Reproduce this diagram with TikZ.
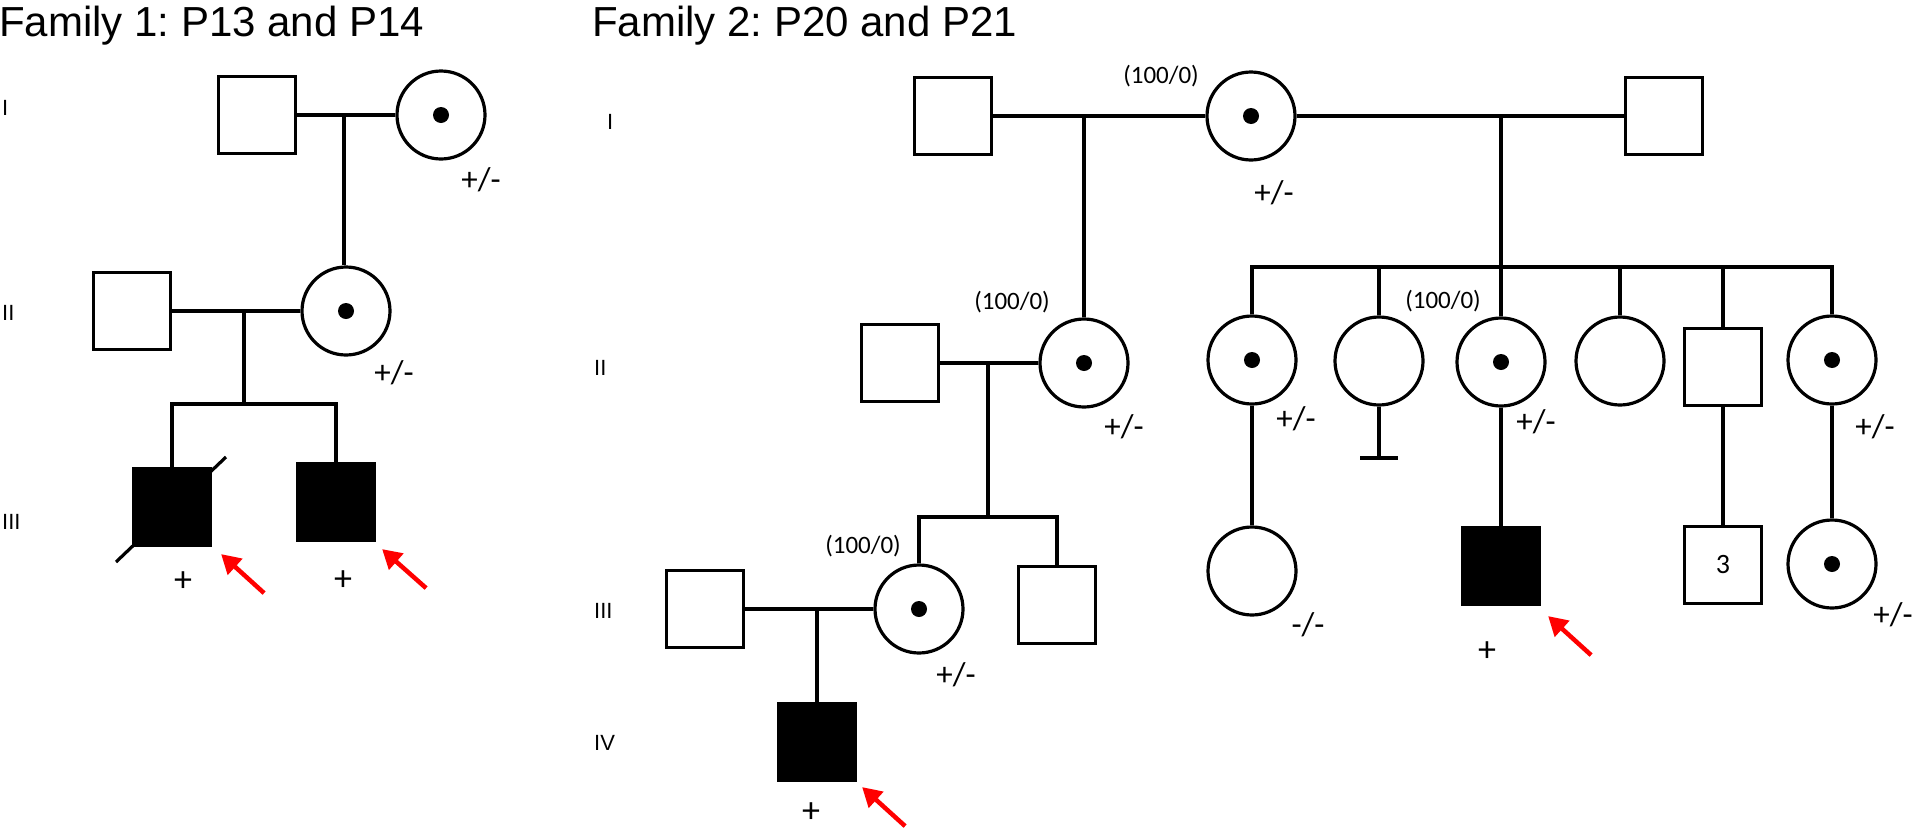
\documentclass[tikz,border=0pt]{standalone}
\usepackage{fontspec}
\setmainfont{Liberation Sans}
\newfontfamily\calibri{Carlito}
\usetikzlibrary{arrows.meta}
\frenchspacing

\begin{document}
\begin{tikzpicture}[
            x=1pt, y=-1pt,
            male/.style={rectangle, draw, line width=3.2pt,
                minimum size=77pt, inner sep=0pt},
            female/.style={circle, draw, line width=3.2pt,
                minimum size=88pt, inner sep=0pt},
            affected/.style={male, fill=black},
            carrier/.style={female,
                path picture={\fill (path picture bounding box.center) circle (8pt);}},
            line/.style={draw, line width=3.2pt},
            proband/.style={draw=red, line width=4.5pt,
                -{Triangle[length=19pt, width=21pt]}},
            heading/.style={anchor=base west, inner sep=0pt,
                font=\fontsize{42}{48}\selectfont},
            gen/.style={anchor=west, inner sep=0pt, font=\fontsize{22}{24}\selectfont},
            geno/.style={inner sep=0pt, font=\calibri\fontsize{33}{36}\selectfont},
            ratio/.style={inner sep=0pt, font=\calibri\fontsize{25}{28}\selectfont},
            sign/.style={inner sep=0pt, font=\calibri\fontsize{36}{38}\selectfont}
        ]
            \useasboundingbox (0,0) rectangle (1917,833);

            % Family 1
            \node [heading] (famA) at (-1,36) {Family 1: P13 and P14};
            \node [gen] (aRowI) at (2,108) {I};
            \node [gen] (aRowII) at (2,313) {II};
            \node [gen] (aRowIII) at (2,522) {III};

            \node [male] (aI1) at (257,115) {};
            \node [carrier] (aI2) at (441,115) {};
            \node [male] (aII1) at (132,311) {};
            \node [carrier] (aII2) at (346,311) {};
            \node [affected] (aIII1) at (172,507) {};
            \node [affected] (aIII2) at (336,502) {};

            \coordinate (aMateI) at (344,115);
            \coordinate (aMateII) at (244,311);
            \coordinate (aSib) at (244,404);

            \path [line] (aI1) -- (aI2);
            \path [line] (aMateI) -- (aMateI |- aII2.north);
            \path [line] (aII1) -- (aII2);
            \path [line] (aMateII) -- (aSib);
            \path [line] (aIII1.north) |- (aSib) -| (aIII2.north);
            \path [line] ([shift={(-56,55)}]aIII1.center) -- ([shift={(54,-50)}]aIII1.center);

            \node [geno] (aI2g) at (481,180) {+/-};
            \node [geno] (aII2g) at (394,373) {+/-};
            \node [sign] (aIII1g) at (183,582) {+};
            \node [sign] (aIII2g) at (343,581) {+};

            \path [proband] ([shift={(52,46)}]aIII1.south east) -- ([shift={(9,7)}]aIII1.south east);
            \path [proband] ([shift={(50,46)}]aIII2.south east) -- ([shift={(6,7)}]aIII2.south east);

            % Family 2
            \node [heading] (famB) at (592,36) {Family 2: P20 and P21};
            \node [gen] (bRowI) at (607,122) {I};
            \node [gen] (bRowII) at (594,368) {II};
            \node [gen] (bRowIII) at (594,611) {III};
            \node [gen] (bRowIV) at (594,743) {IV};

            \node [male] (bI1) at (953,116) {};
            \node [carrier] (bI2) at (1251,116) {};
            \node [male] (bI3) at (1664,116) {};

            \node [male] (bII1) at (900,363) {};
            \node [carrier] (bII2) at (1084,363) {};
            \node [carrier] (bII3) at (1252,360) {};
            \node [female] (bII4) at (1379,361) {};
            \node [carrier] (bII5) at (1501,362) {};
            \node [female] (bII6) at (1620,361) {};
            \node [male] (bII7) at (1723,367) {};
            \node [carrier] (bII8) at (1832,360) {};

            \node [male] (bIII1) at (705,609) {};
            \node [carrier] (bIII2) at (919,609) {};
            \node [male] (bIII3) at (1057,605) {};
            \node [female] (bIII4) at (1252,571) {};
            \node [affected] (bIII5) at (1501,566) {};
            \node [male, font=\calibri\fontsize{28}{30}\selectfont] (bIII6) at (1723,565) {3};
            \node [carrier] (bIII7) at (1832,564) {};

            \node [affected] (bIV1) at (817,742) {};

            \coordinate (bMateA) at (1084,116);
            \coordinate (bMateB) at (1501,116);
            \coordinate (bSibB) at (1501,267);
            \coordinate (bMateC) at (988,363);
            \coordinate (bSibC) at (988,517);
            \coordinate (bMateD) at (817,609);
            \coordinate (bStop) at (1379,458);

            % Lines of descent
            \path [line] (bI1) -- (bI2);
            \path [line] (bI2) -- (bI3);
            \path [line] (bMateA) -- (bII2);
            \path [line] (bMateB) -- (bII5);
            \path [line] (bII3.north) |- (bSibB) -| (bII8.north);
            \foreach \kid in {bII4, bII6, bII7}
                \path [line] (\kid.north |- bSibB) -- (\kid.north);
            \path [line] (bII1) -- (bII2);
            \path [line] (bMateC) -- (bSibC);
            \path [line] (bIII2.north) |- (bSibC) -| (bIII3.north);
            \path [line] (bIII1) -- (bIII2);
            \path [line] (bMateD) -- (bIV1);
            \path [line] (bII3) -- (bIII4);
            \path [line] (bII4) -- (bStop);
            \path [line] ([xshift=-19pt]bStop) -- ([xshift=19pt]bStop);
            \path [line] (bII5) -- (bIII5);
            \path [line] (bII7) -- (bIII6);
            \path [line] (bII8) -- (bIII7);

            % Genotypes and read counts
            \node [ratio] (bI2r) at (1161,76) {(100/0)};
            \node [geno] (bI2g) at (1274,193) {+/-};
            \node [ratio] (bII2r) at (1012,302) {(100/0)};
            \node [geno] (bII2g) at (1124,427) {+/-};
            \node [geno] (bII3g) at (1296,419) {+/-};
            \node [ratio] (bII5r) at (1443,301) {(100/0)};
            \node [geno] (bII5g) at (1536,422) {+/-};
            \node [geno] (bII8g) at (1875,427) {+/-};
            \node [ratio] (bIII2r) at (863,546) {(100/0)};
            \node [geno] (bIII2g) at (956,675) {+/-};
            \node [geno] (bIII4g) at (1308,625) {-/-};
            \node [sign] (bIII5g) at (1487,652) {+};
            \node [geno] (bIII7g) at (1893,615) {+/-};
            \node [sign] (bIV1g) at (811,813) {+};

            \path [proband] ([shift={(48,44)}]bIV1.south east) -- ([shift={(5,5)}]bIV1.south east);
            \path [proband] ([shift={(50,49)}]bIII5.south east) -- ([shift={(7,10)}]bIII5.south east);
        \end{tikzpicture}
\end{document}
